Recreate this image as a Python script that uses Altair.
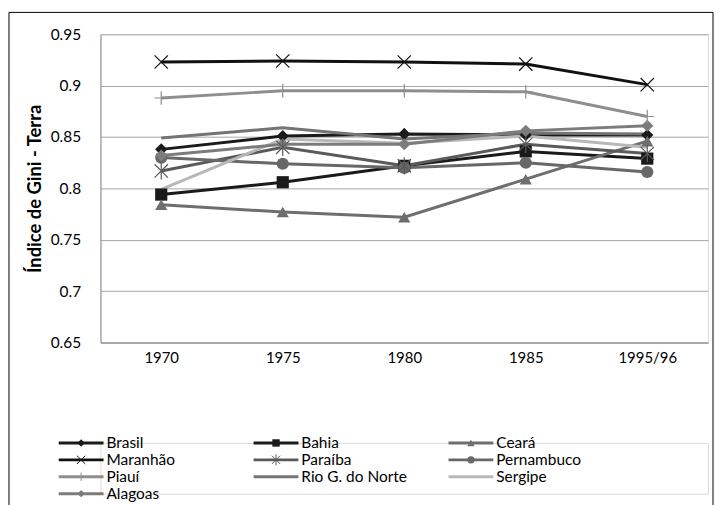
import altair as alt
import pandas as pd

# ---------------- data ----------------
years = ["1970", "1975", "1980", "1985", "1995/96"]
series = ["Brasil", "Bahia", "Ceará", "Maranhão", "Paraíba", "Pernambuco",
          "Piauí", "Rio G. do Norte", "Sergipe", "Alagoas"]

brasil = [0.838, 0.851, 0.853, 0.852, 0.852]
bahia = [0.794, 0.806, 0.822, 0.836, 0.829]
ceara = [0.784, 0.777, 0.772, 0.809, 0.846]
maranhao = [0.923, 0.924, 0.923, 0.921, 0.901]
paraiba = [0.817, 0.840, 0.822, 0.843, 0.834]
pernambuco = [0.830, 0.824, 0.820, 0.825, 0.816]
piaui = [0.888, 0.895, 0.895, 0.894, 0.870]
rio_g_do_norte = [0.849, 0.859, 0.848, 0.854, 0.853]
sergipe = [0.799, 0.848, 0.844, 0.851, 0.840]
alagoas = [0.832, 0.843, 0.843, 0.856, 0.861]

y_ticks = [0.65, 0.7, 0.75, 0.8, 0.85, 0.9, 0.95]
y_title = "Índice de Gini - Terra"

all_values = [brasil, bahia, ceara, maranhao, paraiba, pernambuco,
              piaui, rio_g_do_norte, sergipe, alagoas]

rows = []
for name, vals in zip(series, all_values):
    for yr, v in zip(years, vals):
        rows.append({"series": name, "year": yr, "value": v})
df = pd.DataFrame(rows)

legend_df = pd.DataFrame({
    "series": series,
    "row": [i // 3 for i in range(len(series))],
    "col": [i % 3 for i in range(len(series))],
})

# ---------------- styles ----------------
colors = ["#1a1a1a", "#1a1a1a", "#6e6e6e", "#111111", "#5a5a5a", "#686868",
          "#8e8e8e", "#747474", "#b8b8b8", "#7c7c7c"]
X_PATH = "M-1,-1L1,1M-1,1L1,-1"
AST_PATH = "M-1,-1L1,1M-1,1L1,-1M0,-1.3L0,1.3"
PLUS_PATH = "M-1,0L1,0M0,-1L0,1"

filled_series = ["Brasil", "Bahia", "Ceará", "Pernambuco", "Alagoas"]
open_series = ["Maranhão", "Paraíba", "Piauí"]
marker_series = filled_series + open_series
marker_shapes = ["diamond", "square", "triangle-up", "circle", "diamond",
                 X_PATH, AST_PATH, PLUS_PATH]

FONT = "Lato"

color_enc = alt.Color("series:N", scale=alt.Scale(domain=series, range=colors), legend=None)
shape_enc = alt.Shape("series:N", scale=alt.Scale(domain=marker_series, range=marker_shapes), legend=None)

x_enc = alt.X("year:N", sort=years,
              scale=alt.Scale(type="point", domain=years, padding=0.5),
              axis=alt.Axis(title=None, labelAngle=0, labelFont=FONT, labelFontSize=15,
                            labelColor="#000", labelPadding=8, ticks=False,
                            domainColor="#8a8a8a", grid=False))
y_enc = alt.Y("value:Q",
              scale=alt.Scale(domain=[0.65, 0.95], nice=False, zero=False),
              axis=alt.Axis(title=y_title, values=y_ticks, format=".2~f",
                            labelFont=FONT, labelFontSize=15.5, labelColor="#000",
                            labelPadding=20, ticks=False, domainColor="#8a8a8a",
                            gridColor="#a6a6a6", titleFont=FONT, titleFontSize=18.5,
                            titleFontWeight="bold", titleColor="#000", titlePadding=6))

base = alt.Chart(df)

frame = alt.Chart(pd.DataFrame({"f": [0]})).mark_rect(
    fillOpacity=0, stroke="#000", strokeWidth=1
).encode(x=alt.value(-92), x2=alt.value(616), y=alt.value(-22), y2=alt.value(478))

lines = base.mark_line(strokeWidth=3).encode(x=x_enc, y=y_enc, color=color_enc, detail="series:N")

pts_filled = base.transform_filter(
    alt.FieldOneOfPredicate(field="series", oneOf=filled_series)
).mark_point(filled=True, opacity=1, size=150).encode(
    x=x_enc, y=y_enc, color=color_enc, shape=shape_enc)

pts_open = base.transform_filter(
    alt.FieldOneOfPredicate(field="series", oneOf=open_series)
).mark_point(filled=False, opacity=1, size=180, strokeWidth=1.2).encode(
    x=x_enc, y=y_enc, color=color_enc, shape=shape_enc)

top = alt.layer(frame, lines, pts_filled, pts_open).properties(width=611, height=310)

# ---------------- legend (drawn from the legend table) ----------------
xs = alt.Scale(domain=[0, 3], range=[-42, 546])
ys = alt.Scale(domain=[0, 3], range=[0, 51])

lbase = alt.Chart(legend_df).transform_calculate(
    x0="datum.col", x1="datum.col + 0.23", xm="datum.col + 0.115", xt="datum.col + 0.245")

l_rule = lbase.mark_rule(strokeWidth=3).encode(
    x=alt.X("x0:Q", scale=xs, axis=None), x2="x1:Q",
    y=alt.Y("row:Q", scale=ys, axis=None), color=color_enc)

l_filled = lbase.transform_filter(
    alt.FieldOneOfPredicate(field="series", oneOf=filled_series)
).mark_point(filled=True, opacity=1, size=55).encode(
    x=alt.X("xm:Q", scale=xs, axis=None), y=alt.Y("row:Q", scale=ys, axis=None),
    color=color_enc, shape=shape_enc)

l_open = lbase.transform_filter(
    alt.FieldOneOfPredicate(field="series", oneOf=open_series)
).mark_point(filled=False, opacity=1, size=70, strokeWidth=1).encode(
    x=alt.X("xm:Q", scale=xs, axis=None), y=alt.Y("row:Q", scale=ys, axis=None),
    color=color_enc, shape=shape_enc)

l_text = lbase.mark_text(align="left", baseline="middle", font=FONT, fontSize=15.5,
                         color="#000").encode(
    x=alt.X("xt:Q", scale=xs, axis=None), y=alt.Y("row:Q", scale=ys, axis=None),
    text="series:N")

legend = alt.layer(l_rule, l_filled, l_open, l_text).properties(width=611, height=51)

chart = alt.vconcat(top, legend, spacing=101, bounds="flush").properties(
    padding={"left": 0, "top": 2, "right": 0, "bottom": 0}
).configure_view(stroke=None).configure(background="#ffffff")

chart.save("out.html", embed_options={"renderer": "svg", "actions": False})
